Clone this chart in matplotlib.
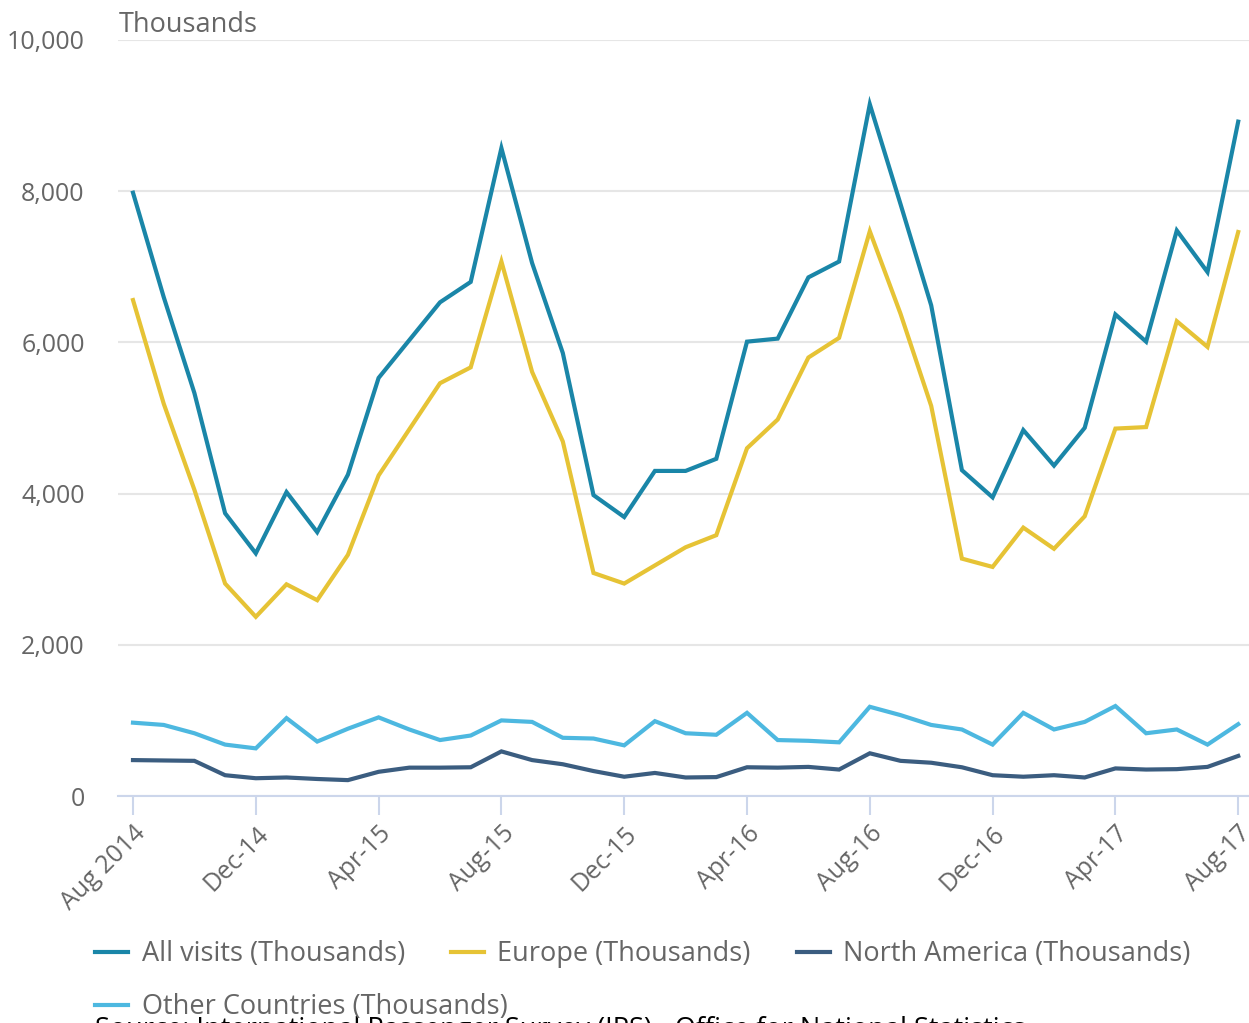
import matplotlib
matplotlib.use("Agg")
import matplotlib.pyplot as plt
from matplotlib.lines import Line2D

plt.rcParams['font.family'] = ['Open Sans', 'DejaVu Sans']

# monthly, Aug 2014 .. Aug 2017
months = list(range(37))
tick_pos = [0, 4, 8, 12, 16, 20, 24, 28, 32, 36]
tick_labels = ["Aug 2014", "Dec-14", "Apr-15", "Aug-15", "Dec-15",
               "Apr-16", "Aug-16", "Dec-16", "Apr-17", "Aug-17"]

all_visits = [7980, 6600, 5330, 3740, 3210, 4020, 3490, 4250, 5530, 6030,
              6530, 6800, 8570, 7050, 5860, 3980, 3690, 4300, 4300, 4460,
              6010, 6050, 6860, 7070, 9150, 7830, 6490, 4310, 3950, 4840,
              4370, 4870, 6370, 6010, 7480, 6930, 8920]
europe = [6560, 5190, 4050, 2810, 2370, 2800, 2590, 3190, 4240, 4850,
          5460, 5670, 7070, 5610, 4690, 2950, 2810, 3050, 3290, 3450,
          4600, 4980, 5800, 6060, 7470, 6380, 5160, 3140, 3030, 3550,
          3270, 3700, 4860, 4880, 6280, 5940, 7460]
north_america = [475, 470, 465, 275, 235, 245, 225, 210, 320, 375,
                 375, 380, 590, 475, 420, 330, 255, 305, 245, 250,
                 380, 375, 385, 350, 565, 465, 440, 380, 275, 255,
                 275, 245, 365, 350, 355, 385, 530]
other = [970, 940, 830, 680, 630, 1030, 720, 890, 1040, 880,
         740, 800, 1000, 980, 770, 760, 670, 990, 830, 810,
         1100, 740, 730, 710, 1180, 1070, 940, 880, 680, 1100,
         880, 980, 1190, 830, 880, 680, 950]

series = [
    ("All visits (Thousands)", all_visits, "#1a86a8"),
    ("Europe (Thousands)", europe, "#e6c335"),
    ("North America (Thousands)", north_america, "#3b5d80"),
    ("Other Countries (Thousands)", other, "#4db8e0"),
]

W, H = 1249, 1023
fig = plt.figure(figsize=(W / 100, H / 100), dpi=100)
ax = fig.add_axes([118 / W, (H - 796) / H, (W - 118) / W, (796 - 40) / H])

for name, vals, col in series:
    ax.plot(months, vals, color=col, lw=3, solid_joinstyle='miter', label=name)

ax.set_xlim(-15 / 30.7, (W - 133) / 30.7)
ax.set_ylim(0, 10000)
ax.set_yticks([0, 2000, 4000, 6000, 8000, 10000])
ax.set_yticklabels(["0", "2,000", "4,000", "6,000", "8,000", "10,000"])
ax.yaxis.grid(True, color="#e6e6e6", lw=1.5)
ax.set_axisbelow(True)
for s in ["top", "right", "left"]:
    ax.spines[s].set_visible(False)
ax.spines["bottom"].set_color("#ccd6eb")
ax.spines["bottom"].set_linewidth(1.5)

ax.set_xticks(tick_pos)
ax.set_xticklabels(tick_labels, rotation=45, ha="right", rotation_mode="anchor")
ax.tick_params(axis="x", length=14, width=1.5, color="#ccd6eb", pad=4,
               labelsize=18, labelcolor="#666666")
ax.tick_params(axis="y", length=0, pad=24, labelsize=18, labelcolor="#666666")

fig.text(119 / W, (H - 25) / H, "Thousands", fontsize=19.5, color="#666666",
         ha="left", va="center")

handles = [Line2D([], [], color=c, lw=3) for _, _, c in series]
names = [n for n, _, _ in series]
leg_kw = dict(frameon=False, fontsize=19.5, handlelength=1.22, handletextpad=0.5,
              columnspacing=1.7, borderaxespad=0, borderpad=0, labelcolor="#666666")
fig.legend(handles[:3], names[:3], ncol=3, loc="center left",
           bbox_to_anchor=(95 / W, (H - 954) / H), **leg_kw)
fig.legend(handles[3:], names[3:], ncol=1, loc="center left",
           bbox_to_anchor=(95 / W, (H - 1007) / H), **leg_kw)

fig.text(95 / W, (H - 1016) / H,
         "Source: International Passenger Survey (IPS) - Office for National Statistics",
         fontsize=19.5, color="#000000", ha="left", va="top")

fig.savefig("out.png", dpi=100)
